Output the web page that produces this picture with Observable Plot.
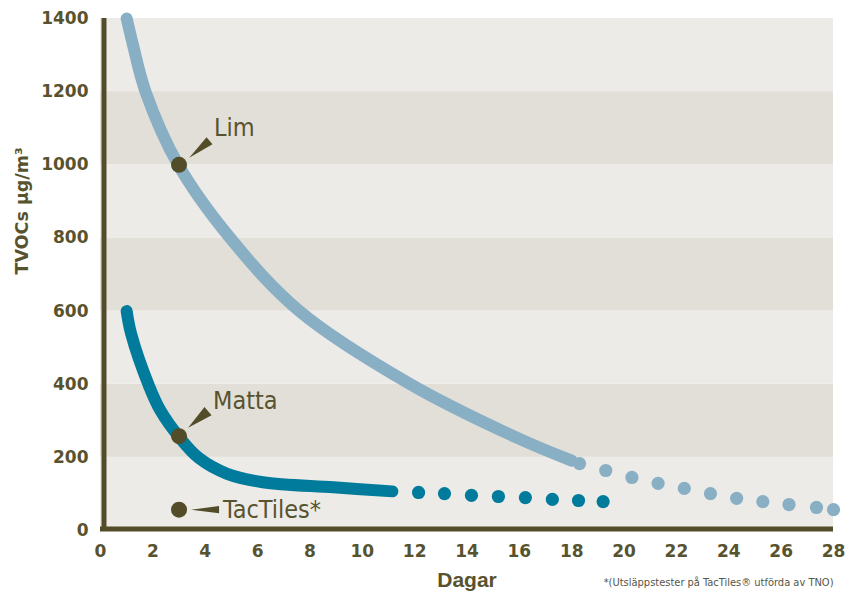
<!DOCTYPE html>
<html>
<head>
<meta charset="utf-8">
<script src="https://cdn.jsdelivr.net/npm/d3@7"></script>
<script src="https://cdn.jsdelivr.net/npm/@observablehq/plot@0.6"></script>
<style>
  html, body { margin: 0; padding: 0; background: #ffffff; }
  #chart { width: 861px; height: 596px; }
</style>
</head>
<body>
<div id="chart"></div>
<script>
// ---------- data ----------
const xTicks = [0, 2, 4, 6, 8, 10, 12, 14, 16, 18, 20, 22, 24, 26, 28];
const yTicks = [0, 200, 400, 600, 800, 1000, 1200, 1400];
const bandStarts = [0, 200, 400, 600, 800, 1000, 1200];

const limSolidX = [1, 1.23, 1.72, 2.97, 4.95, 7.6, 11.84, 15.9, 18.0];
const limSolidY = [1400, 1331, 1200, 1000, 800, 600, 400, 254, 191];
const limDotX = [18.3, 19.3, 20.3, 21.3, 22.3, 23.3, 24.3, 25.3, 26.3, 27.35, 28.0];
const limDotY = [183, 164, 145, 129, 115, 101, 88, 79, 71, 63, 57];

const mattaSolidX = [1, 1.17, 1.85, 2.29, 3.0, 3.76, 4.84, 6.2, 8.9, 11.15];
const mattaSolidY = [600, 538, 396, 328, 256, 198, 155, 132, 118, 107];
const mattaDotX = [12.15, 13.14, 14.17, 15.2, 16.23, 17.26, 18.26, 19.2];
const mattaDotY = [104, 101, 96, 93, 90, 85, 82, 79];

const annotLabels = ["Lim", "Matta", "TacTiles*"];
const annotX = [3, 3, 3];
const annotY = [1000, 258, 57];

const yLabel = "TVOCs µg/m³";
const xLabel = "Dagar";
const footnote = "*(Utsläppstester på TacTiles® utförda av TNO)";

// ---------- styles ----------
const olive = "#58532f";
const oliveDark = "#524c28";
const limColor = "#89afc5";
const mattaColor = "#007b9b";
const bandLight = "#edebe7";
const bandDark = "#e2dfd8";
const narrow = "'Liberation Sans Narrow', 'DejaVu Sans Condensed', 'Liberation Sans', sans-serif";
const boldFont = "'DejaVu Sans', sans-serif";

// per-annotation layout (pixel offsets from the marker)
const annotLayout = [
  {tdx: 35, tdy: -37, wdx: 30.5, wdy: -24, rot: 230, len: 26.5, r: 4.6},
  {tdx: 34, tdy: -35, wdx: 29, wdy: -25, rot: 230, len: 26, r: 5.5},
  {tdx: 44, tdy: 0, wdx: 40, wdy: 0, rot: 270, len: 28, r: 3.6}
];

// ---------- tables ----------
const zip = (xs, ys) => xs.map((x, i) => ({x, y: ys[i]}));
const limSolid = zip(limSolidX, limSolidY);
const limDots = zip(limDotX, limDotY);
const mattaSolid = zip(mattaSolidX, mattaSolidY);
const mattaDots = zip(mattaDotX, mattaDotY);
const bands = bandStarts.map((v, i) => ({y1: v, y2: v + 200, dark: i % 2 === 1}));
const annots = annotLabels.map((label, i) => ({label, x: annotX[i], y: annotY[i]}));

const annotMarks = annots.flatMap((a, i) => {
  const L = annotLayout[i];
  return [
    Plot.vector([a], {
      x: "x", y: "y", dx: L.wdx, dy: L.wdy,
      anchor: "start", shape: "spike",
      length: L.len, rotate: L.rot, r: L.r,
      fill: oliveDark, stroke: "none"
    }),
    Plot.text([a], {
      x: "x", y: "y", text: "label", dx: L.tdx, dy: L.tdy,
      textAnchor: "start", lineAnchor: "middle",
      fontFamily: narrow, fontSize: 25, fill: olive
    })
  ];
});

const chart = Plot.plot({
  width: 861,
  height: 596,
  marginLeft: 100,
  marginRight: 28,
  marginTop: 18,
  marginBottom: 66,
  style: {background: "transparent", color: olive, fontFamily: boldFont, overflow: "visible"},
  x: {domain: [0, 28]},
  y: {domain: [0, 1400]},
  marks: [
    Plot.rect(bands, {
      x1: 0, x2: 28, y1: "y1", y2: "y2",
      fill: d => d.dark ? bandDark : bandLight
    }),
    Plot.axisY(yTicks, {
      tickSize: 0, tickPadding: 12, label: null, tickFormat: d => String(d),
      fontSize: 17, fontWeight: "bold", fill: olive, fontFamily: boldFont
    }),
    Plot.axisX(xTicks, {
      tickSize: 0, tickPadding: 14, label: null, tickFormat: d => String(d),
      fontSize: 17, fontWeight: "bold", fill: olive, fontFamily: boldFont
    }),
    Plot.line(limSolid, {
      x: "x", y: "y", curve: "catmull-rom",
      stroke: limColor, strokeWidth: 12, strokeLinecap: "round"
    }),
    Plot.dot(limDots, {x: "x", y: "y", r: 6.6, fill: limColor}),
    Plot.line(mattaSolid, {
      x: "x", y: "y", curve: "catmull-rom",
      stroke: mattaColor, strokeWidth: 12, strokeLinecap: "round"
    }),
    Plot.dot(mattaDots, {x: "x", y: "y", r: 6.6, fill: mattaColor}),
    Plot.ruleX([0], {y1: 0, y2: 1400, stroke: oliveDark, strokeWidth: 5, dx: 3.5}),
    Plot.ruleY([0], {x1: 0, x2: 28, stroke: oliveDark, strokeWidth: 5, dy: -1.5}),
    Plot.dot(annots, {x: "x", y: "y", r: 8, fill: oliveDark}),
    ...annotMarks,
    Plot.text([yLabel], {
      frameAnchor: "left", text: d => d, rotate: -90, dx: -78,
      fontSize: 17.5, fontWeight: "bold", fill: olive, fontFamily: boldFont
    }),
    Plot.text([xLabel], {
      frameAnchor: "bottom", text: d => d, dy: 56,
      fontSize: 21, fontWeight: "bold", fill: olive,
      fontFamily: "'Liberation Sans', Arial, sans-serif"
    }),
    Plot.text([footnote], {
      frameAnchor: "bottom-right", text: d => d, dy: 55, textAnchor: "end",
      fontSize: 11, fill: "#555548", fontFamily: narrow
    })
  ]
});

document.getElementById("chart").appendChild(chart);
</script>
</body>
</html>
